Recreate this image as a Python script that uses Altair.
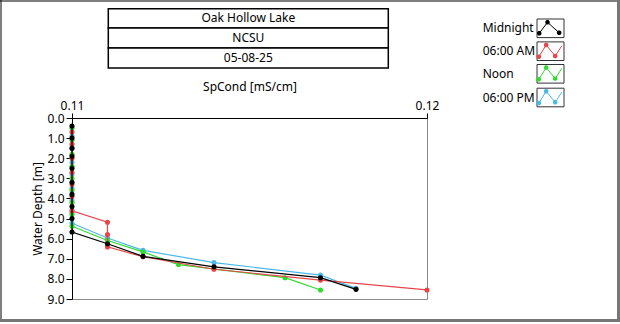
import math
import altair as alt
import pandas as pd

FONT = "Noto Sans"

# ---------------- data ----------------
series_names = ["Midnight", "06:00 AM", "Noon", "06:00 PM"]
series_colors = ["#000000", "#e5474b", "#2edc2e", "#4cb8e8"]

midnight_cond = [0.110, 0.110, 0.110, 0.110, 0.110, 0.110, 0.110, 0.110, 0.110, 0.110,
                 0.111, 0.112, 0.114, 0.117, 0.118]
midnight_depth = [0.4, 1.0, 1.5, 1.9, 2.5, 3.2, 3.8, 4.4, 5.0, 5.67,
                  6.25, 6.88, 7.40, 7.94, 8.52]

am6_cond = [0.110, 0.110, 0.110, 0.110, 0.110, 0.110, 0.110,
            0.111, 0.111, 0.111, 0.112, 0.114, 0.117, 0.120]
am6_depth = [0.7, 1.3, 2.0, 2.7, 3.3, 3.9, 4.61,
             5.18, 5.79, 6.41, 6.90, 7.52, 8.06, 8.55]

noon_cond = [0.110, 0.110, 0.110, 0.110, 0.110, 0.110, 0.110, 0.110, 0.110,
             0.111, 0.112, 0.113, 0.116, 0.117]
noon_depth = [0.5, 1.1, 1.8, 2.4, 3.0, 3.6, 4.2, 4.8, 5.38,
              6.09, 6.66, 7.29, 7.94, 8.55]

pm6_cond = [0.110, 0.110, 0.110, 0.110, 0.110, 0.110, 0.110, 0.110,
            0.111, 0.112, 0.114, 0.117, 0.118]
pm6_depth = [0.9, 1.5, 2.2, 2.8, 3.5, 4.1, 4.7, 5.23,
             5.97, 6.58, 7.19, 7.81, 8.47]

series_cond = [midnight_cond, am6_cond, noon_cond, pm6_cond]
series_depth = [midnight_depth, am6_depth, noon_depth, pm6_depth]

titles = ["Oak Hollow Lake", "NCSU", "05-08-25"]
x_ticks = [0.11, 0.12]
y_ticks = [0, 1, 2, 3, 4, 5, 6, 7, 8, 9]

# ---------------- encodings ----------------
x_enc = alt.X(
    "cond:Q",
    scale=alt.Scale(domain=[0.11, 0.12], nice=False, zero=False),
    axis=alt.Axis(orient="top", values=x_ticks, format=".2f", title="SpCond [mS/cm]",
                  tickSize=5, labelPadding=1, titlePadding=6, grid=False,
                  labelFlush=False),
)
y_enc = alt.Y(
    "depth:Q",
    scale=alt.Scale(domain=[0, 9], reverse=True, nice=False, zero=False),
    axis=alt.Axis(values=y_ticks, format=".1f", title="Water Depth [m]",
                  tickSize=6, labelPadding=2, titlePadding=3, grid=False),
)

layers = []
one = pd.DataFrame({"k": [0]})

# outer frame
layers.append(alt.Chart(one).mark_rule(color="#000000", strokeWidth=1).encode(
    x=alt.value(-71), y=alt.value(-118), y2=alt.value(203)))
layers.append(alt.Chart(one).mark_rule(color="#000000", strokeWidth=1).encode(
    x=alt.value(-72), x2=alt.value(548), y=alt.value(-117)))
layers.append(alt.Chart(one).mark_rule(color="#777777", strokeWidth=3).encode(
    x=alt.value(546.5), y=alt.value(-118), y2=alt.value(203.5)))
layers.append(alt.Chart(one).mark_rule(color="#777777", strokeWidth=3).encode(
    x=alt.value(-72), x2=alt.value(548), y=alt.value(202.5)))

# title boxes
box_edges = [-109.3, -90.0, -70.0, -50.0]
for i, t in enumerate(titles):
    layers.append(alt.Chart(one).mark_rect(fill="white", stroke="#000000", strokeWidth=1.5).encode(
        x=alt.value(36.3), x2=alt.value(316.3),
        y=alt.value(box_edges[i]), y2=alt.value(box_edges[i + 1])))
    layers.append(alt.Chart(one).mark_text(font=FONT, fontSize=12, color="#000000",
                                           align="center", baseline="middle").encode(
        x=alt.value(176.3), y=alt.value((box_edges[i] + box_edges[i + 1]) / 2),
        text=alt.value(t)))

# data layers: draw 06:00 PM first, Midnight last
for i in [3, 2, 1, 0]:
    df = pd.DataFrame({"cond": series_cond[i], "depth": series_depth[i],
                       "idx": list(range(len(series_cond[i])))})
    layers.append(alt.Chart(df).mark_line(color=series_colors[i], strokeWidth=1.2).encode(
        x=x_enc, y=y_enc, order="idx:Q"))
    layers.append(alt.Chart(df).mark_circle(color=series_colors[i], size=26, opacity=1).encode(
        x=x_enc, y=y_enc))


# legend
def dot_path(cx, cy, r=0.2):
    pts = []
    for k in range(8):
        a = math.pi / 8 + k * math.pi / 4
        pts.append(f"{cx + r * math.cos(a):.3f},{cy + r * math.sin(a):.3f}")
    return "M" + " L".join(pts) + " Z"


glyph_peak = [(-0.94, 0.42), (-0.25, -0.5), (0.72, 0.37)]
glyph_zig = [(-0.97, 0.46), (-0.36, -0.52), (0.39, 0.40), (0.95, -0.46)]
legend_y = [-89.7, -66.8, -44.2, -20.5]
for i, name in enumerate(series_names):
    yc = legend_y[i]
    verts = glyph_peak if i == 0 else glyph_zig
    dots = verts if i == 0 else verts[:3]
    line_path = "M" + " L".join(f"{a},{b}" for a, b in verts)
    dots_path = " ".join(dot_path(a, b) for a, b in dots)
    layers.append(alt.Chart(one).mark_text(font=FONT, fontSize=12, color="#000000",
                                           align="left", baseline="middle").encode(
        x=alt.value(410.7), y=alt.value(yc), text=alt.value(name)))
    layers.append(alt.Chart(one).mark_rect(fill="white", stroke="#333333", strokeWidth=1).encode(
        x=alt.value(465), x2=alt.value(492), y=alt.value(yc - 9.3), y2=alt.value(yc + 9.3)))
    layers.append(alt.Chart(one).mark_point(shape=line_path, filled=False, stroke=series_colors[i],
                                            strokeWidth=1, size=576, opacity=1).encode(
        x=alt.value(478.5), y=alt.value(yc)))
    layers.append(alt.Chart(one).mark_point(shape=dots_path, filled=True, fill=series_colors[i],
                                            strokeWidth=0, size=576, opacity=1).encode(
        x=alt.value(478.5), y=alt.value(yc)))

chart = alt.layer(*layers).properties(
    width=355, height=181,
    padding={"left": 72, "top": 118, "right": 193, "bottom": 25},
    autosize=alt.AutoSizeParams(type="none"),
    background="white",
).configure_view(stroke="#8a8a8a", strokeWidth=1).configure_axis(
    labelFont=FONT, titleFont=FONT, labelFontSize=12, titleFontSize=12,
    titleFontWeight="normal", labelColor="#000000", titleColor="#000000",
    domainColor="#000000", tickColor="#000000", domainWidth=1, tickWidth=1,
)

chart.save("out.html", embed_options={"renderer": "svg", "actions": False})
